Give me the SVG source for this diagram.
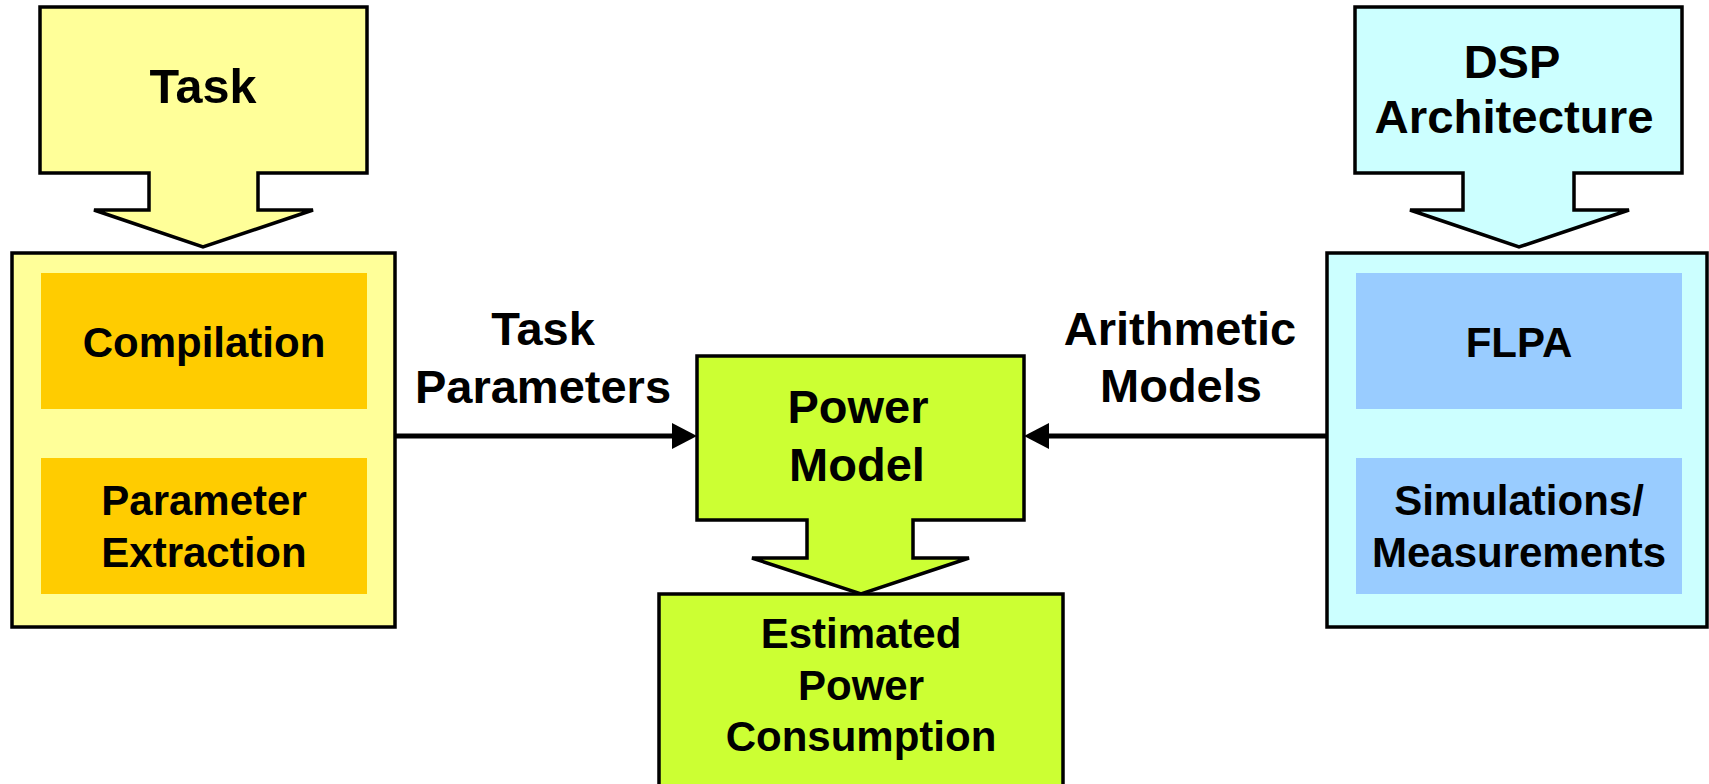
<svg xmlns="http://www.w3.org/2000/svg" width="1709" height="784" viewBox="0 0 1709 784">
  <defs>
    <style>
      .box { stroke: #000; stroke-width: 3.5; }
      .yellow { fill: #FFFF99; }
      .orange { fill: #FFCC00; }
      .green { fill: #CCFF33; }
      .cyan { fill: #CCFFFF; }
      .blue { fill: #99CCFF; }
      .lbl { font-family: "Liberation Sans", Arial, sans-serif; font-weight: bold; fill: #000; text-anchor: middle; }
      .f42 { font-size: 42px; }
      .f47 { font-size: 47px; }
      .f48 { font-size: 48px; }
      .link { stroke: #000; stroke-width: 5; fill: none; }
    </style>
    <marker id="head" viewBox="0 0 25 26" refX="3" refY="13" markerWidth="25" markerHeight="26" markerUnits="userSpaceOnUse" orient="auto">
      <path d="M0,0 L25,13 L0,26 Z" fill="#000"/>
    </marker>
  </defs>

  <rect width="1709" height="784" fill="#FFFFFF"/>

  <!-- Task input arrow -->
  <g id="task">
    <path class="box yellow" d="M40,7 H367 V173 H258 V210 H313 L203,247 L94,210 H149 V173 H40 Z"/>
    <text class="lbl f48" x="203" y="103" textLength="107" lengthAdjust="spacingAndGlyphs">Task</text>
  </g>

  <!-- Task processing container -->
  <g id="task-processing">
    <rect class="box yellow" x="12" y="253" width="383" height="374"/>
    <g id="compilation">
      <rect class="orange" x="41" y="273" width="326" height="136"/>
      <text class="lbl f42" x="204" y="357">Compilation</text>
    </g>
    <g id="parameter-extraction">
      <rect class="orange" x="41" y="458" width="326" height="136"/>
      <text class="lbl f42" x="204" y="515">Parameter</text>
      <text class="lbl f42" x="204" y="567">Extraction</text>
    </g>
  </g>

  <!-- DSP architecture input arrow -->
  <g id="dsp-architecture">
    <path class="box cyan" d="M1355,7 H1682 V173 H1574 V210 H1629 L1519,247 L1410,210 H1463 V173 H1355 Z"/>
    <text class="lbl f47" x="1512" y="78">DSP</text>
    <text class="lbl f47" x="1514" y="133" textLength="279" lengthAdjust="spacingAndGlyphs">Architecture</text>
  </g>

  <!-- Architecture characterisation container -->
  <g id="architecture-models">
    <rect class="box cyan" x="1327" y="253" width="380" height="374"/>
    <g id="flpa">
      <rect class="blue" x="1356" y="273" width="326" height="136"/>
      <text class="lbl f42" x="1519" y="357">FLPA</text>
    </g>
    <g id="simulations">
      <rect class="blue" x="1356" y="458" width="326" height="136"/>
      <text class="lbl f42" x="1519" y="515">Simulations/</text>
      <text class="lbl f42" x="1519" y="567">Measurements</text>
    </g>
  </g>

  <!-- Power model with output arrow -->
  <g id="power-model">
    <path class="box green" d="M697,356 H1024 V520 H913 V558 H969 L861,594 L752,558 H807 V520 H697 Z"/>
    <text class="lbl f47" x="858" y="423">Power</text>
    <text class="lbl f47" x="857" y="481">Model</text>
  </g>

  <!-- Result -->
  <g id="estimated-power">
    <rect class="box green" x="659" y="594" width="404" height="200"/>
    <text class="lbl f42" x="861" y="648">Estimated</text>
    <text class="lbl f42" x="861" y="700">Power</text>
    <text class="lbl f42" x="861" y="751">Consumption</text>
  </g>

  <!-- Connectors -->
  <g id="connectors">
    <line class="link" x1="395" y1="436" x2="675" y2="436" marker-end="url(#head)"/>
    <line class="link" x1="1327" y1="436" x2="1046" y2="436" marker-end="url(#head)"/>
    <text class="lbl f47" x="543" y="345">Task</text>
    <text class="lbl f47" x="543" y="403">Parameters</text>
    <text class="lbl f47" x="1180" y="345">Arithmetic</text>
    <text class="lbl f47" x="1181" y="402">Models</text>
  </g>
</svg>
